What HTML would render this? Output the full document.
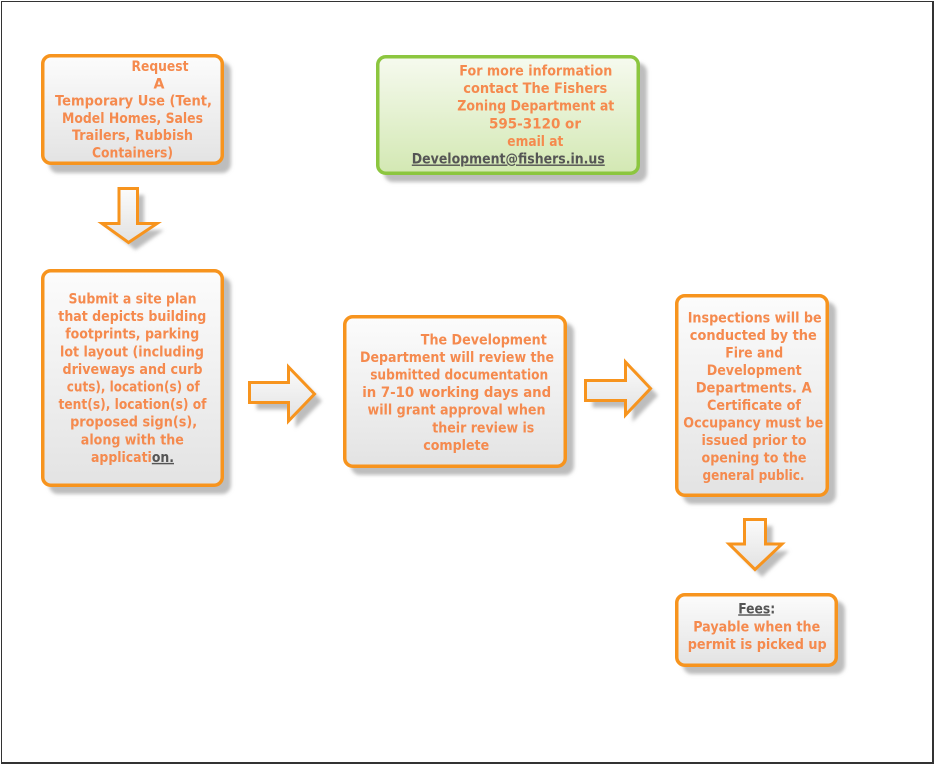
<!DOCTYPE html>
<html><head><meta charset="utf-8"><style>
html,body{margin:0;padding:0;background:#fff;}
svg{display:block;}
text{font-family:"DejaVu Sans","Liberation Sans",sans-serif;font-weight:bold;font-size:14.2px;fill:#f58a4e;}
.g{fill:#555555;text-decoration:underline;}
</style></head><body>
<svg width="935" height="765" viewBox="0 0 935 765" xmlns="http://www.w3.org/2000/svg">
<defs>
<linearGradient id="gr" x1="0" y1="0" x2="0" y2="1">
<stop offset="0" stop-color="#fcfcfc"/><stop offset="1" stop-color="#e3e3e3"/>
</linearGradient>
<linearGradient id="gg" x1="0" y1="0" x2="0" y2="1">
<stop offset="0" stop-color="#f6faef"/><stop offset="1" stop-color="#d3e8b3"/>
</linearGradient>
<linearGradient id="ga" x1="0" y1="0" x2="0" y2="1">
<stop offset="0" stop-color="#fbfbfb"/><stop offset="1" stop-color="#e2e2e2"/>
</linearGradient>
<filter id="sh" x="-20%" y="-20%" width="140%" height="140%">
<feGaussianBlur stdDeviation="1.8"/>
</filter>
</defs>
<rect x="0" y="0" width="935" height="765" fill="#fff"/>
<!-- frame -->
<rect x="1" y="1" width="1" height="763" fill="#333"/>
<rect x="1" y="1" width="933" height="1" fill="#333"/>
<rect x="932" y="1" width="2" height="763" fill="#333"/>
<rect x="1" y="762" width="933" height="2" fill="#333"/>

<!-- shadows -->
<g fill="#bdbdbd" filter="url(#sh)">
<rect x="49" y="62" width="182" height="111" rx="9"/>
<rect x="384" y="63" width="263" height="119" rx="9"/>
<rect x="49" y="277" width="182" height="217" rx="9"/>
<rect x="351" y="323" width="223" height="152" rx="9"/>
<rect x="683" y="302" width="153" height="202" rx="9"/>
<rect x="683" y="601" width="162" height="73" rx="9"/>
<polygon points="126,195 144,195 144,230 164,230 135.5,250 110,230 126,230"/>
<polygon points="751.5,526 772.5,526 772.5,551 789,551 762,577 736,551 751.5,551"/>
<polygon points="256.5,389.5 295.5,389.5 295.5,374 322,401 295.5,428 295.5,409.5 256.5,409.5"/>
<polygon points="592.5,387.5 632.5,387.5 632.5,369 658,395.5 632.5,422 632.5,407.5 592.5,407.5"/>
</g>

<!-- boxes -->
<g stroke-width="3.5">
<rect x="42.75" y="55.75" width="179.5" height="107.5" rx="8" fill="url(#gr)" stroke="#f7941e"/>
<rect x="377.75" y="56.75" width="260.5" height="116.5" rx="8" fill="url(#gg)" stroke="#8cc63f"/>
<rect x="42.75" y="270.75" width="179.5" height="214.5" rx="8" fill="url(#gr)" stroke="#f7941e"/>
<rect x="344.75" y="316.75" width="220.5" height="149.5" rx="8" fill="url(#gr)" stroke="#f7941e"/>
<rect x="676.75" y="295.75" width="150.5" height="199.5" rx="8" fill="url(#gr)" stroke="#f7941e"/>
<rect x="676.75" y="594.75" width="159.5" height="70.5" rx="8" fill="url(#gr)" stroke="#f7941e"/>
</g>

<!-- arrows -->
<g stroke="#f7941e" stroke-width="3" stroke-linejoin="miter" fill="url(#ga)">
<polygon points="119,188.5 137.5,188.5 137.5,223.5 157,223.5 128.5,242.5 102,223.5 119,223.5"/>
<polygon points="744.5,519.5 765.5,519.5 765.5,544 782,544 755,569.5 729,544 744.5,544"/>
<polygon points="249.5,382.5 288.5,382.5 288.5,367 314.5,394 288.5,421 288.5,402.5 249.5,402.5"/>
<polygon points="585.5,380.5 625.5,380.5 625.5,362 650.5,388.5 625.5,415 625.5,400.5 585.5,400.5"/>
</g>

<g text-anchor="middle">
<!-- box1 text -->
<text x="160" y="71" textLength="57" lengthAdjust="spacingAndGlyphs">Request</text>
<text x="159" y="88.3">A</text>
<text x="133.5" y="105.6" textLength="157" lengthAdjust="spacingAndGlyphs">Temporary Use (Tent,</text>
<text x="132.5" y="122.9" textLength="141" lengthAdjust="spacingAndGlyphs">Model Homes, Sales</text>
<text x="132.5" y="140.2" textLength="121" lengthAdjust="spacingAndGlyphs">Trailers, Rubbish</text>
<text x="132.5" y="157.5" textLength="81" lengthAdjust="spacingAndGlyphs">Containers)</text>

<!-- green box -->
<text x="535.8" y="75.5" textLength="153" lengthAdjust="spacingAndGlyphs">For more information</text>
<text x="535.3" y="93.1" textLength="144" lengthAdjust="spacingAndGlyphs">contact  The Fishers</text>
<text x="535.8" y="110.7" textLength="157" lengthAdjust="spacingAndGlyphs">Zoning Department at</text>
<text x="535" y="128.3" textLength="92" lengthAdjust="spacingAndGlyphs">595-3120 or</text>
<text x="535.3" y="145.9" textLength="56" lengthAdjust="spacingAndGlyphs">email at</text>
<text x="508.3" y="163.5" class="g" textLength="193" lengthAdjust="spacingAndGlyphs">Development@fishers.in.us</text>

<!-- box3 -->
<text x="132.5" y="303.5" textLength="128" lengthAdjust="spacingAndGlyphs">Submit a site plan</text>
<text x="132.3" y="321.1" textLength="148" lengthAdjust="spacingAndGlyphs">that depicts building</text>
<text x="132.2" y="338.7" textLength="134" lengthAdjust="spacingAndGlyphs">footprints, parking</text>
<text x="132" y="356.3" textLength="144" lengthAdjust="spacingAndGlyphs">lot layout (including</text>
<text x="132.5" y="373.9" textLength="140" lengthAdjust="spacingAndGlyphs">driveways and curb</text>
<text x="133.3" y="391.5" textLength="133" lengthAdjust="spacingAndGlyphs">cuts), location(s) of</text>
<text x="132.5" y="409.1" textLength="148" lengthAdjust="spacingAndGlyphs">tent(s), location(s) of</text>
<text x="133.6" y="426.7" textLength="127" lengthAdjust="spacingAndGlyphs">proposed sign(s),</text>
<text x="132.3" y="444.3" textLength="103" lengthAdjust="spacingAndGlyphs">along with the</text>
<text x="132.5" y="461.9" textLength="83" lengthAdjust="spacingAndGlyphs">applicati<tspan class="g">on.</tspan></text>

<!-- box4 -->
<text x="483.8" y="344.3" textLength="126" lengthAdjust="spacingAndGlyphs">The Development</text>
<text x="457" y="361.9" textLength="194" lengthAdjust="spacingAndGlyphs">Department will review the</text>
<text x="459.2" y="379.5" textLength="178" lengthAdjust="spacingAndGlyphs">submitted documentation</text>
<text x="456.7" y="397.1" textLength="189" lengthAdjust="spacingAndGlyphs">in 7-10 working days and</text>
<text x="456.5" y="414.7" textLength="178" lengthAdjust="spacingAndGlyphs">will grant approval when</text>
<text x="483.3" y="432.3" textLength="102" lengthAdjust="spacingAndGlyphs">their review is</text>
<text x="456.2" y="449.9" textLength="66" lengthAdjust="spacingAndGlyphs">complete</text>

<!-- box5 -->
<text x="754.7" y="322.3" textLength="134" lengthAdjust="spacingAndGlyphs">Inspections will be</text>
<text x="753.3" y="339.8" textLength="127" lengthAdjust="spacingAndGlyphs">conducted by the</text>
<text x="754.2" y="357.3" textLength="58" lengthAdjust="spacingAndGlyphs">Fire and</text>
<text x="754.2" y="374.8" textLength="95" lengthAdjust="spacingAndGlyphs">Development</text>
<text x="753.7" y="392.3" textLength="116" lengthAdjust="spacingAndGlyphs">Departments.  A</text>
<text x="754" y="409.8" textLength="94" lengthAdjust="spacingAndGlyphs">Certificate of</text>
<text x="753.3" y="427.3" textLength="140" lengthAdjust="spacingAndGlyphs">Occupancy must be</text>
<text x="754" y="444.8" textLength="105" lengthAdjust="spacingAndGlyphs">issued prior to</text>
<text x="754" y="462.3" textLength="105" lengthAdjust="spacingAndGlyphs">opening to the</text>
<text x="753.5" y="479.8" textLength="102" lengthAdjust="spacingAndGlyphs">general public.</text>

<!-- box6 -->
<text x="756.7" y="613.3" textLength="37" lengthAdjust="spacingAndGlyphs"><tspan class="g">Fees</tspan><tspan fill="#555555">:</tspan></text>
<text x="756.7" y="631.5" textLength="127" lengthAdjust="spacingAndGlyphs">Payable when the</text>
<text x="757.2" y="649" textLength="139" lengthAdjust="spacingAndGlyphs">permit is picked up</text>
</g>
</svg>
</body></html>
